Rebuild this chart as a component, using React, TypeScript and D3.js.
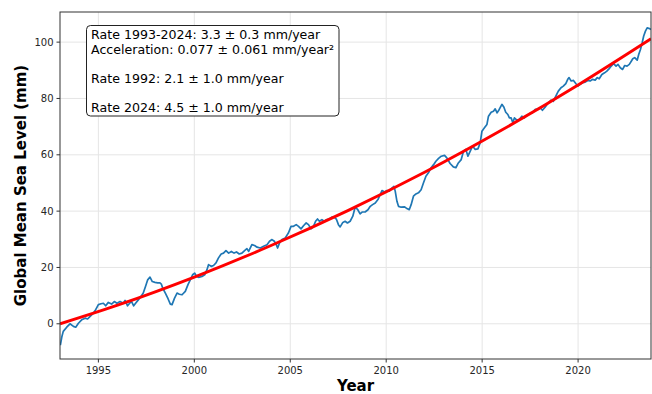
import React from "react";
import * as d3 from "d3";

// ---- Data ----
const years: number[] = [
  1993.02, 1993.1, 1993.17, 1993.35, 1993.52, 1993.7, 1993.82, 1993.96, 1994.13, 1994.31,
  1994.44, 1994.57, 1994.74, 1994.86, 1995.0, 1995.14, 1995.26, 1995.38, 1995.52, 1995.69,
  1995.83, 1995.97, 1996.13, 1996.3, 1996.39, 1996.52, 1996.63, 1996.73, 1996.84, 1996.94,
  1997.08, 1997.22, 1997.34, 1997.46, 1997.57, 1997.69, 1997.81, 1997.95, 1998.09, 1998.21,
  1998.28, 1998.35, 1998.49, 1998.63, 1998.75, 1998.84, 1998.97, 1999.1, 1999.22, 1999.36,
  1999.53, 1999.67, 1999.79, 1999.91, 2000.02, 2000.12, 2000.22, 2000.4, 2000.54, 2000.66,
  2000.74, 2000.88, 2001.0, 2001.13, 2001.26, 2001.4, 2001.52, 2001.65, 2001.79, 2001.93,
  2002.07, 2002.2, 2002.34, 2002.48, 2002.62, 2002.74, 2002.83, 2003.0, 2003.14, 2003.27,
  2003.44, 2003.61, 2003.79, 2003.92, 2004.05, 2004.17, 2004.27, 2004.34, 2004.44, 2004.57,
  2004.74, 2004.91, 2005.04, 2005.17, 2005.31, 2005.43, 2005.56, 2005.69, 2005.83, 2005.95,
  2006.08, 2006.21, 2006.32, 2006.42, 2006.52, 2006.65, 2006.77, 2006.91, 2007.05, 2007.17,
  2007.29, 2007.4, 2007.51, 2007.6, 2007.74, 2007.86, 2007.98, 2008.12, 2008.26, 2008.38,
  2008.52, 2008.64, 2008.76, 2008.9, 2009.05, 2009.17, 2009.29, 2009.43, 2009.57, 2009.69,
  2009.78, 2009.92, 2010.04, 2010.16, 2010.3, 2010.4, 2010.47, 2010.56, 2010.64, 2010.78,
  2010.96, 2011.08, 2011.2, 2011.3, 2011.42, 2011.55, 2011.68, 2011.82, 2011.94, 2012.07,
  2012.2, 2012.34, 2012.47, 2012.59, 2012.73, 2012.87, 2013.04, 2013.16, 2013.33, 2013.5,
  2013.63, 2013.76, 2013.91, 2014.03, 2014.15, 2014.26, 2014.38, 2014.5, 2014.64, 2014.78,
  2014.9, 2014.99, 2015.12, 2015.25, 2015.33, 2015.47, 2015.59, 2015.68, 2015.78, 2015.89,
  2016.03, 2016.13, 2016.23, 2016.34, 2016.42, 2016.51, 2016.6, 2016.68, 2016.81, 2016.93,
  2017.07, 2017.2, 2017.33, 2017.5, 2017.62, 2017.76, 2017.9, 2018.02, 2018.14, 2018.28,
  2018.42, 2018.59, 2018.71, 2018.84, 2018.97, 2019.11, 2019.23, 2019.36, 2019.46, 2019.53,
  2019.64, 2019.76, 2019.88, 2019.99, 2020.11, 2020.23, 2020.37, 2020.51, 2020.63, 2020.75,
  2020.89, 2021.0, 2021.1, 2021.24, 2021.38, 2021.5, 2021.62, 2021.73, 2021.85, 2021.98,
  2022.08, 2022.2, 2022.32, 2022.43, 2022.55, 2022.67, 2022.78, 2022.85, 2022.95, 2023.08,
  2023.16, 2023.25, 2023.34, 2023.42, 2023.51, 2023.6, 2023.72, 2023.8,
];

const gmsl: number[] = [
  -7.6, -4.5, -2.7, -1.2, 0.0, -0.9, -1.2, 0.2, 1.4, 2.0,
  1.7, 2.6, 3.8, 5.0, 6.8, 7.1, 7.3, 6.4, 7.6, 7.0,
  7.9, 7.3, 7.9, 7.3, 8.3, 6.4, 7.3, 7.9, 6.4, 7.3,
  8.5, 9.7, 10.9, 13.3, 15.6, 16.6, 15.0, 14.7, 14.5, 14.5,
  14.1, 12.7, 10.9, 8.9, 7.0, 6.8, 9.1, 10.9, 10.5, 10.3,
  11.5, 13.9, 15.6, 17.4, 18.0, 16.8, 16.5, 16.8, 17.4, 19.2,
  21.0, 20.4, 20.7, 21.6, 23.4, 24.8, 25.1, 26.0, 25.1, 25.7,
  25.1, 25.5, 24.8, 25.1, 26.0, 26.7, 25.7, 28.1, 27.8, 27.2,
  26.9, 27.5, 28.1, 29.3, 29.9, 29.3, 28.1, 26.9, 28.7, 29.9,
  30.5, 32.3, 34.6, 34.6, 35.2, 34.6, 33.7, 34.8, 35.8, 35.2,
  33.7, 34.6, 36.4, 37.2, 36.4, 37.0, 36.4, 37.0, 37.2, 37.9,
  37.9, 37.2, 35.2, 34.4, 36.0, 36.4, 35.8, 36.4, 38.2, 41.4,
  40.5, 39.0, 39.7, 39.7, 40.5, 41.7, 42.3, 42.9, 44.1, 45.9,
  47.3, 46.8, 47.3, 47.1, 48.2, 48.8, 47.1, 43.5, 41.7, 41.4,
  41.5, 40.9, 40.5, 42.3, 45.3, 46.1, 46.5, 47.6, 50.0, 52.4,
  53.6, 55.4, 56.5, 57.7, 58.7, 59.5, 59.8, 58.9, 56.9, 55.7,
  55.4, 57.1, 58.3, 61.3, 61.9, 59.5, 61.3, 63.1, 61.9, 62.1,
  64.3, 68.4, 69.6, 70.8, 73.7, 75.1, 75.5, 76.3, 74.9, 76.1,
  77.9, 77.0, 75.1, 74.3, 73.1, 73.1, 71.4, 73.1, 72.3, 72.5,
  73.7, 73.1, 74.0, 74.7, 74.9, 76.1, 76.1, 76.7, 75.8, 76.9,
  78.2, 79.4, 79.0, 80.8, 82.6, 83.8, 84.4, 85.3, 86.8, 87.4,
  86.2, 86.4, 85.3, 84.4, 85.0, 85.6, 85.8, 86.4, 86.2, 86.8,
  86.5, 87.4, 87.0, 88.5, 89.1, 89.7, 90.6, 91.5, 92.4, 91.5,
  92.1, 90.9, 90.3, 91.7, 91.5, 92.1, 93.3, 94.1, 94.5, 93.6,
  95.6, 97.4, 99.8, 102.2, 103.9, 105.1, 104.8, 104.5,
];

// Quadratic trend curve
const trendYears: number[] = [1993.0, 1996, 2000, 2004, 2008, 2012, 2016, 2020, 2023.8];
const trendValues: number[] = [0, 6.6, 16.6, 27.8, 40.2, 53.8, 68.7, 84.8, 101.2];

const xTicks: number[] = [1995, 2000, 2005, 2010, 2015, 2020];
const yTicks: number[] = [0, 20, 40, 60, 80, 100];

const xDomain: [number, number] = [1993.0, 2023.8];
const yDomain: [number, number] = [-12.5, 110.7];

const annotationLines: string[] = [
  "Rate 1993-2024: 3.3 ± 0.3 mm/year",
  "Acceleration: 0.077 ± 0.061 mm/year²",
  "",
  "Rate 1992: 2.1 ± 1.0 mm/year",
  "",
  "Rate 2024: 4.5 ± 1.0 mm/year",
];

const W = 652;
const H = 394;
const M = { left: 60, right: 1, top: 12, bottom: 35 };
const FONT = "'DejaVu Sans', sans-serif";

export default function App() {
  const x = d3.scaleLinear().domain(xDomain).range([M.left, W - M.right]);
  const y = d3.scaleLinear().domain(yDomain).range([H - M.bottom, M.top]);
  const pts = years.map((yr, i) => [yr, gmsl[i]] as [number, number]);
  const line = d3
    .line<[number, number]>()
    .x((d) => x(d[0]))
    .y((d) => y(d[1]));
  const trendPts = trendYears.map((yr, i) => [yr, trendValues[i]] as [number, number]);
  const trendLine = d3
    .line<[number, number]>()
    .x((d) => x(d[0]))
    .y((d) => y(d[1]))
    .curve(d3.curveNatural);

  const x0 = M.left;
  const x1 = W - M.right;
  const y0 = M.top;
  const y1 = H - M.bottom;

  const boxX = 86.5;
  const boxY = 25.5;
  const boxW = 252.5;
  const boxH = 90.5;
  const textSize = 12.6;
  const lineStep = 14.45;

  return (
    <svg
      width={W}
      height={H}
      style={{ position: "absolute", left: 0, top: 0, background: "#fff" }}
      fontFamily={FONT}
    >
      <defs>
        <clipPath id="plotclip">
          <rect x={x0} y={y0} width={x1 - x0} height={y1 - y0} />
        </clipPath>
      </defs>
      <rect x={0} y={0} width={W} height={H} fill="#fff" />
      {/* grid */}
      <g stroke="#e5e5e5" strokeWidth={1}>
        {xTicks.map((t) => (
          <line key={"gx" + t} x1={x(t)} x2={x(t)} y1={y0} y2={y1} />
        ))}
        {yTicks.map((t) => (
          <line key={"gy" + t} x1={x0} x2={x1} y1={y(t)} y2={y(t)} />
        ))}
      </g>
      <g clipPath="url(#plotclip)">
        <path d={line(pts) || ""} fill="none" stroke="#1f77b4" strokeWidth={1.7} strokeLinejoin="round" />
        <path d={trendLine(trendPts) || ""} fill="none" stroke="#ff0000" strokeWidth={2.9} />
      </g>
      {/* spines */}
      <rect x={x0} y={y0} width={x1 - x0} height={y1 - y0} fill="none" stroke="#333" strokeWidth={1} />
      {/* x ticks */}
      <g fontSize={10} fill="#262626" textAnchor="middle">
        {xTicks.map((t) => (
          <g key={"xt" + t}>
            <line x1={x(t)} x2={x(t)} y1={y1} y2={y1 + 3.5} stroke="#333" />
            <text x={x(t)} y={y1 + 14.5}>
              {t}
            </text>
          </g>
        ))}
      </g>
      <g fontSize={10} fill="#262626" textAnchor="end">
        {yTicks.map((t) => (
          <g key={"yt" + t}>
            <line x1={x0 - 3.5} x2={x0} y1={y(t)} y2={y(t)} stroke="#333" />
            <text x={x0 - 6.5} y={y(t) + 3.6}>
              {t}
            </text>
          </g>
        ))}
      </g>
      {/* axis labels */}
      <text x={(x0 + x1) / 2} y={390.5} textAnchor="middle" fontWeight="bold" fontSize={15} fill="#000">
        Year
      </text>
      <text
        transform={`translate(25.5, ${(y0 + y1) / 2}) rotate(-90)`}
        textAnchor="middle"
        fontWeight="bold"
        fontSize={15}
        fill="#000"
      >
        Global Mean Sea Level (mm)
      </text>
      {/* annotation box */}
      <rect x={boxX} y={boxY} width={boxW} height={boxH} rx={4} ry={4} fill="#fff" stroke="#222" strokeWidth={1} />
      <g fontSize={textSize} fill="#000">
        {annotationLines.map((s, i) =>
          s ? (
            <text key={"a" + i} x={91} y={39.3 + i * lineStep}>
              {s}
            </text>
          ) : null
        )}
      </g>
    </svg>
  );
}
